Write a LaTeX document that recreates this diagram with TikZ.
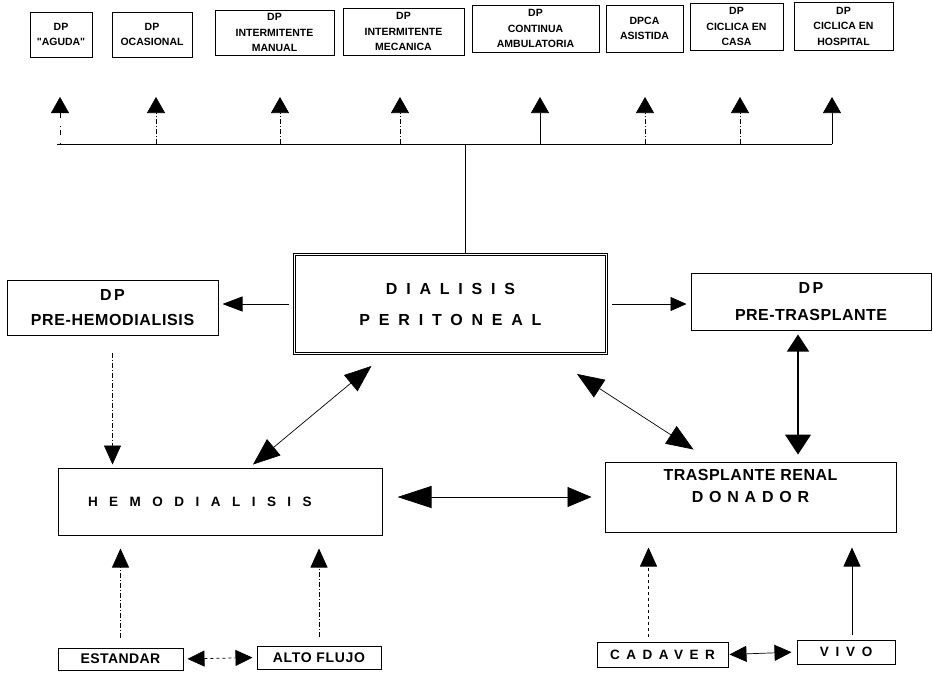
\documentclass[tikz,border=0pt]{standalone}
\usepackage{fontspec}
\setmainfont{Liberation Sans}
\usetikzlibrary{arrows.meta,positioning}
\newcommand{\spaced}[2]{{\addfontfeature{LetterSpace=#1}#2}}

\begin{document}
\begin{tikzpicture}[x=1pt,y=-1pt,
  box/.style={draw, line width=1pt, inner sep=0pt, align=center, font=\bfseries},
  topbox/.style={box, font=\fontsize{10.5}{15.5}\selectfont\bfseries},
  bigbox/.style={box, font=\fontsize{16}{25}\selectfont\bfseries},
  smallbox/.style={box, font=\fontsize{14}{16}\selectfont\bfseries},
  link/.style={line width=0.7pt},
  dashdot/.style={dash pattern=on 5pt off 2pt on 1pt off 2pt},
  faintline/.style={dash pattern=on 1pt off 8pt on 5pt off 3pt, line width=0.3pt},
  tipup/.style={link, -{Triangle[width=18pt,length=16pt]}},
  tip/.style={link, -{Triangle[width=17pt,length=19pt]}},
  tipsm/.style={link, -{Triangle[width=14pt,length=16pt]}},
  both/.style={link, {Triangle[width=21pt,length=27pt]}-{Triangle[width=21pt,length=27pt]}},
  bothsm/.style={link, {Triangle[width=16pt,length=17pt]}-{Triangle[width=16pt,length=17pt]}}]
\useasboundingbox (0,0) rectangle (933,675);

% tipos de dialisis peritoneal
\node[topbox, minimum width=62pt, minimum height=45pt] (aguda) at (61,34.5) {DP\\\textquotedbl AGUDA\textquotedbl};
\node[topbox, minimum width=80pt, minimum height=45pt] (ocas) at (152,34.5) {DP\\OCASIONAL};
\node[topbox, minimum width=119pt, minimum height=45pt] (intman) at (274.5,32.5) {DP\\INTERMITENTE\\MANUAL};
\node[topbox, minimum width=121pt, minimum height=47pt] (intmec) at (403.5,31.5) {DP\\INTERMITENTE\\MECANICA};
\node[topbox, minimum width=127pt, minimum height=47pt] (cont) at (535.5,28.5) {DP\\CONTINUA\\AMBULATORIA};
\node[topbox, minimum width=77pt, minimum height=47pt] (asist) at (644.5,28.5) {DPCA\\ASISTIDA};
\node[topbox, minimum width=93pt, minimum height=47pt] (ccasa) at (736.5,26.5) {DP\\CICLICA EN\\CASA};
\node[topbox, minimum width=99pt, minimum height=48pt] (chosp) at (843.5,26) {DP\\CICLICA EN\\HOSPITAL};

% cajas principales
\node[draw, double, double distance=1.6pt, line width=0.9pt, minimum width=312pt, minimum height=99pt,
  inner sep=0pt, align=center, font=\fontsize{16}{31}\selectfont\bfseries] (dial) at (450.5,304)
  {\spaced{55}{DIALISIS}\\\spaced{55}{PERITONEAL}};
\node[bigbox, minimum width=211pt, minimum height=55pt] (prehemo) at (112.5,307.5)
  {\spaced{15}{DP}\\\spaced{4}{PRE-HEMODIALISIS}};
\node[bigbox, minimum width=240pt, minimum height=57pt, font=\fontsize{16}{27}\selectfont\bfseries] (pretras) at (811,301.5)
  {\spaced{15}{DP}\\\spaced{3}{PRE-TRASPLANTE}};
\node[box, minimum width=324pt, minimum height=67pt, text width=264pt, inner xsep=30pt, align=left,
  font=\fontsize{13.5}{16}\selectfont\bfseries] (hemo) at (220,501.5) {\spaced{85}{HEMODIALISIS}};
\node[bigbox, minimum width=291pt, minimum height=70pt, font=\fontsize{16}{22}\selectfont\bfseries] (tras) at (750.5,497)
  {\spaced{3}{TRASPLANTE RENAL}\\\spaced{36}{DONADOR}\\\mbox{}};

% cajas de abajo
\node[smallbox, minimum width=125pt, minimum height=22pt] (est) at (120.5,659) {\spaced{3}{ESTANDAR}};
\node[smallbox, minimum width=124pt, minimum height=23pt] (alto) at (319,657.5) {\spaced{5}{ALTO FLUJO}};
\node[smallbox, minimum width=131pt, minimum height=25pt, font=\fontsize{13.5}{16}\selectfont\bfseries] (cad) at (662.5,654.5) {\spaced{48}{CADAVER}};
\node[smallbox, minimum width=98pt, minimum height=24pt, font=\fontsize{13.5}{16}\selectfont\bfseries] (vivo) at (846,652) {\spaced{50}{VIVO}};

% barra superior
\coordinate (bus) at (465,144);
\coordinate (tipline) at (465,97);
\draw[link] ([xshift=-4pt]aguda.south |- bus) -- ([xshift=-11.5pt]chosp.south |- bus);
\draw[link] (bus) -- (bus |- dial.north);
\foreach \b/\dx/\sty in {aguda/-1/faintline, ocas/4/dashdot, intman/5.5/dashdot, intmec/-3.5/dashdot,
    cont/4.5/solid, asist/0.5/dashdot, ccasa/3.5/dashdot, chosp/-11.5/solid}
  \draw[tipup,\sty] ([xshift=\dx pt]\b.south |- bus) -- ([xshift=\dx pt]\b.south |- tipline);

% conexiones
\draw[link, -{Triangle[width=15pt,length=20pt]}, shorten <=5pt, shorten >=4pt] (dial.west) -- (dial.west -| prehemo.east);
\draw[tipsm, shorten <=5pt, shorten >=4pt] (dial.east) -- (dial.east -| pretras.west);
\draw[tip, dashdot, shorten <=17pt, shorten >=3pt] (prehemo.south) -- (prehemo.south |- hemo.north);
\draw[both] ([xshift=-79pt,yshift=-12pt]dial.south) -- ([xshift=33pt,yshift=3pt]hemo.north);
\draw[link, {Triangle[width=22pt,length=34pt]}-{Triangle[width=20pt,length=24pt]}, shorten <=15pt, shorten >=13pt]
  (hemo.east |- tras.west) -- (tras.west);
\draw[both] ([xshift=-30pt,yshift=-20pt]dial.south east) -- ([xshift=-57pt,yshift=12pt]tras.north);
\draw[line width=1.1pt, {Triangle[width=22pt,length=17pt]}-{Triangle[width=26pt,length=20pt]}]
  ([xshift=-13pt,yshift=-4pt]pretras.south) -- ([xshift=47.5pt,yshift=7pt]tras.north);

\draw[tip, dashdot, shorten <=10pt, shorten >=13pt] (est.north) -- (est.north |- hemo.south);
\draw[tip, dashdot, shorten <=9pt, shorten >=13pt] (alto.north) -- (alto.north |- hemo.south);
\draw[bothsm, dashed, shorten <=4pt, shorten >=4pt] (est.east) -- (alto.west);
\draw[tip, dashed] ([xshift=-14pt,yshift=5pt]cad.north) -- ([xshift=-102pt,yshift=-15pt]tras.south);
\draw[tip] ([xshift=6pt,yshift=5pt]vivo.north) -- ([xshift=101.5pt,yshift=-15pt]tras.south);
\draw[bothsm, shorten <=1pt, shorten >=5pt] (cad.east) -- (vivo.west);
\end{tikzpicture}
\end{document}
